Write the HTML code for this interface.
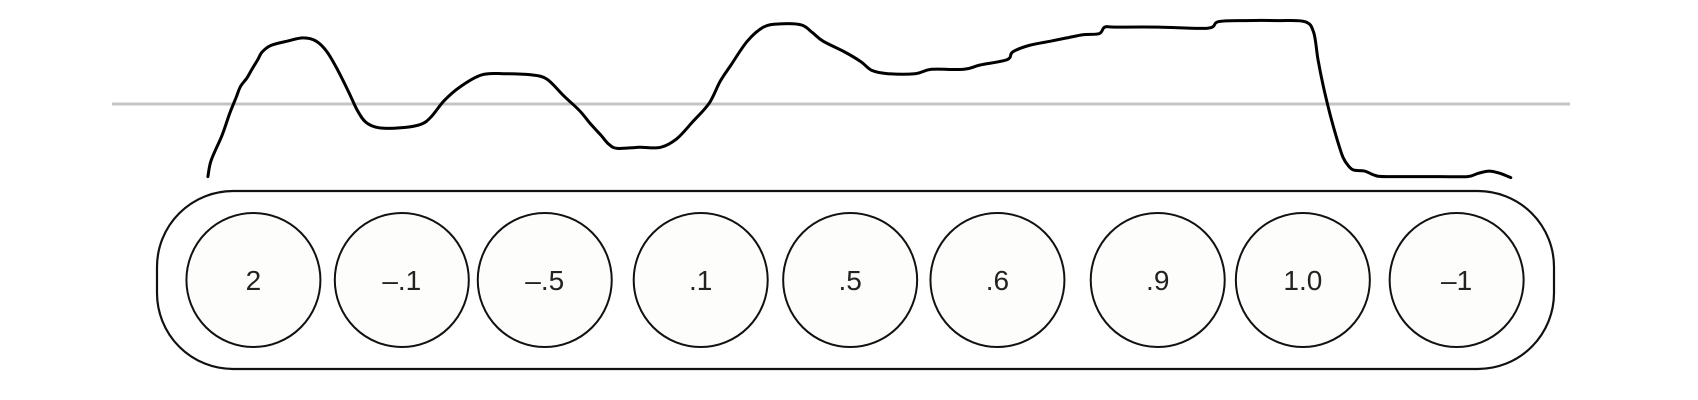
<!DOCTYPE html>
<html><head><meta charset="utf-8"><style>
html,body{margin:0;padding:0;background:#fff;}
svg{display:block;}
</style></head><body>
<svg id="chart" width="1698" height="400" viewBox="0 0 1698 400" xmlns="http://www.w3.org/2000/svg">
<line x1="112" y1="104" x2="1570" y2="104" stroke="#c4c4c4" stroke-width="3"/>
<rect x="157" y="191" width="1397" height="178" rx="76" ry="76" fill="#fff" stroke="#111" stroke-width="2.2"/>
<g id="tokens"></g>
<path id="trace" fill="none" stroke="#000" stroke-width="3" stroke-linejoin="round" stroke-linecap="round"/>
</svg>
<script>
const tokenLabels = ["2","\u2013.1","\u2013.5",".1",".5",".6",".9","1.0","\u20131"];
const tokenPos = [234,371,503,647,785,921,1069,1203,1345];
const traceX = [192,195,205,212,218,222,228,232,238,242,250,265,280,292,302,312,322,330,338,350,370,388,398,410,425,445,465,490,505,520,535,545,555,562,570,590,610,625,640,655,665,675,690,705,720,740,750,760,780,795,805,820,845,860,890,905,930,935,950,970,985,1000,1015,1020,1030,1070,1115,1125,1150,1180,1205,1213,1217,1222,1228,1235,1240,1245,1250,1260,1270,1280,1330,1355,1365,1375,1385,1395];
const traceY = [-67,-52,-29,-9,6,16,24,31,41,48,54,58,61,58,48,31,11,-6,-17,-22,-22,-19,-12,3,16,27,28,27,23,8,-6,-18,-29,-37,-41,-40,-40,-32,-16,1,21,36,58,71,74,73,66,58,48,39,31,28,28,32,32,36,41,48,54,58,61,64,65,71,71,71,70,76,77,77,76,66,41,16,-9,-34,-49,-57,-61,-62,-66,-67,-67,-67,-64,-62,-64,-68];
const S = 1.083;
function xScale(v){ return v*S; }
function yScale(v){ return 104 - v*S; }
const g = document.getElementById('tokens');
const NS = 'http://www.w3.org/2000/svg';
tokenLabels.forEach((lab,i)=>{
  const c = document.createElementNS(NS,'circle');
  c.setAttribute('cx', xScale(tokenPos[i]));
  c.setAttribute('cy', 280);
  c.setAttribute('r', 67);
  c.setAttribute('fill', '#fdfdfb');
  c.setAttribute('stroke', '#111');
  c.setAttribute('stroke-width', '2');
  
  
  g.appendChild(c);
  const t = document.createElementNS(NS,'text');
  t.setAttribute('x', xScale(tokenPos[i]));
  t.setAttribute('y', 290);
  t.setAttribute('text-anchor', 'middle');
  t.setAttribute('font-family', '"Liberation Sans", sans-serif');
  t.setAttribute('font-size', '28');
  t.setAttribute('fill', '#222');
  t.textContent = lab;
  
  
  g.appendChild(t);
});
const pts = traceX.map((x,i)=>[xScale(x), yScale(traceY[i])]);
let d = 'M' + pts[0][0].toFixed(1) + ' ' + pts[0][1].toFixed(1);
for (let i=0;i<pts.length-1;i++){
  const p0 = pts[Math.max(0,i-1)], p1 = pts[i], p2 = pts[i+1], p3 = pts[Math.min(pts.length-1,i+2)];
  const c1x = p1[0] + (p2[0]-p0[0])/6, c1y = p1[1] + (p2[1]-p0[1])/6;
  const c2x = p2[0] - (p3[0]-p1[0])/6, c2y = p2[1] - (p3[1]-p1[1])/6;
  d += ' C' + c1x.toFixed(1)+' '+c1y.toFixed(1)+' '+c2x.toFixed(1)+' '+c2y.toFixed(1)+' '+p2[0].toFixed(1)+' '+p2[1].toFixed(1);
}
document.getElementById('trace').setAttribute('d', d);
</script>
</body></html>
